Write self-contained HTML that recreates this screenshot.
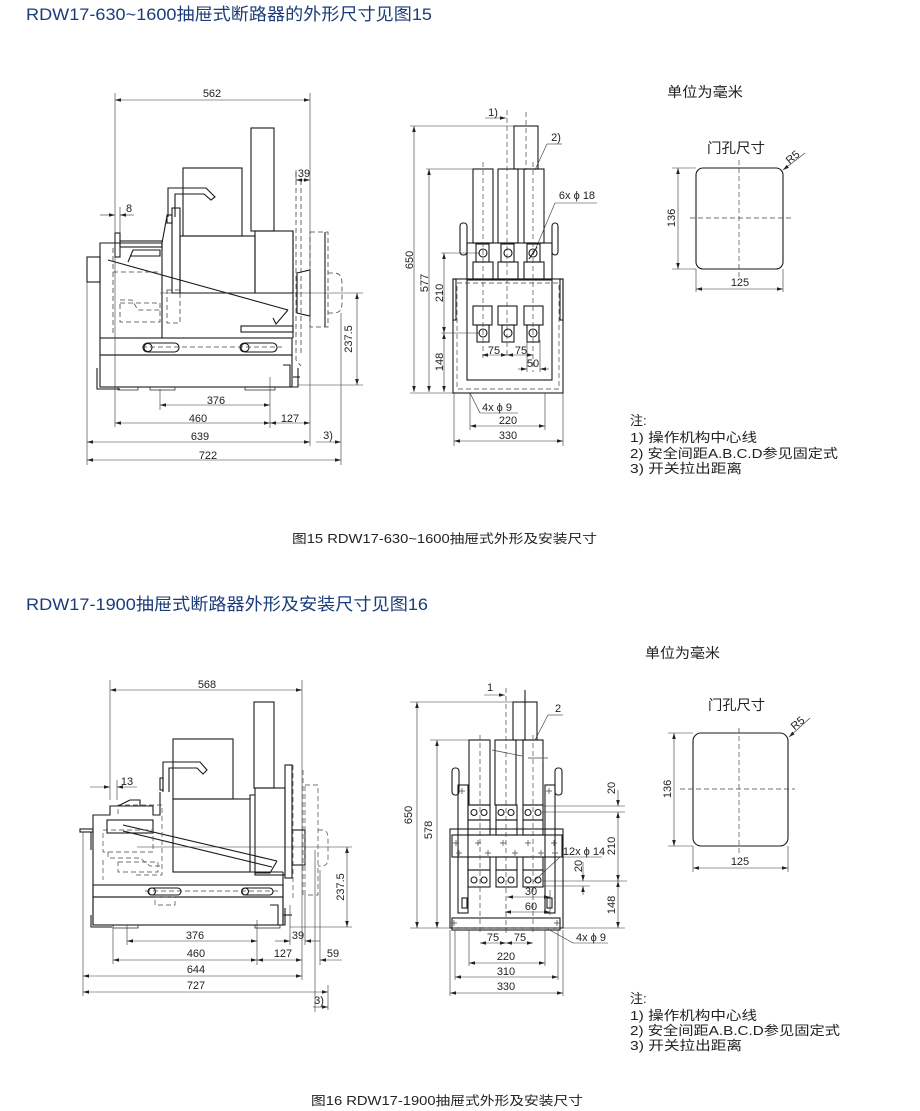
<!DOCTYPE html>
<html><head><meta charset="utf-8"><style>
html,body{margin:0;padding:0;background:#fff}
svg{display:block}
.o{fill:none;stroke:#1a1a1a;stroke-width:1.1}
.ft{fill:none;stroke:#1a1a1a;stroke-width:0.7}
.l{fill:none;stroke:#333;stroke-width:0.6}
.h{fill:none;stroke:#444;stroke-width:0.8;stroke-dasharray:5 3}
.dd{fill:none;stroke:#333;stroke-width:0.6;marker-start:url(#a);marker-end:url(#a)}
.de{fill:none;stroke:#333;stroke-width:0.6;marker-end:url(#a)}
.t{font-family:"Liberation Sans",sans-serif;font-size:11px;fill:#222;text-anchor:middle}
.c{font-family:"Liberation Sans","Noto Sans CJK SC",sans-serif;fill:#222}
.ti{font-family:"Liberation Sans","Noto Sans CJK SC",sans-serif;font-size:17px;fill:#1b3b7a}
</style></head><body>
<svg width="920" height="1111" viewBox="0 0 920 1111" xmlns="http://www.w3.org/2000/svg">
<defs>
<marker id="a" viewBox="0 0 10 6" refX="10" refY="3" markerWidth="6" markerHeight="3.6" orient="auto-start-reverse" markerUnits="userSpaceOnUse"><path d="M0,0 L10,3 L0,6z" fill="#222"/></marker>
</defs>

<!-- titles -->
<text class="ti" x="26" y="20" textLength="406" lengthAdjust="spacingAndGlyphs">RDW17-630~1600抽屉式断路器的外形尺寸见图15</text>
<text class="ti" x="26" y="610" textLength="402" lengthAdjust="spacingAndGlyphs">RDW17-1900抽屉式断路器外形及安装尺寸见图16</text>
<text class="c" x="292" y="543" font-size="12.5" textLength="305" lengthAdjust="spacingAndGlyphs">图15  RDW17-630~1600抽屉式外形及安装尺寸</text>
<text class="c" x="311" y="1105" font-size="12.5" textLength="272" lengthAdjust="spacingAndGlyphs">图16  RDW17-1900抽屉式外形及安装尺寸</text>

<!-- ================= FIG 1 SIDE ================= -->
<g class="o">
<rect x="251" y="128" width="23" height="103"/>
<rect x="183" y="168" width="59" height="68"/>
<rect x="180" y="236" width="75" height="57"/>
<rect x="255" y="231" width="38" height="62"/>
<polyline points="168,217 168,188 206,188 215,197 211,200 204,194 175,194 175,217"/>
<rect x="172" y="208" width="8" height="85"/>
<rect x="167" y="215" width="5" height="8"/>
<polyline points="162,338 162,243 167,216"/>
<polyline points="100,338 100,243 162,243"/>
<rect x="115" y="233" width="5" height="24"/>
<rect x="120" y="241" width="42" height="6"/>
<polyline points="128,262 133,250 160,250 160,256 130,256"/>
<rect x="100" y="338" width="192" height="17"/>
<rect x="100" y="355" width="192" height="32"/>
<polyline points="97,368 97,389 120,389"/>
<rect x="143" y="343" width="36" height="9" rx="4.5"/>
<circle cx="148" cy="347.5" r="4"/>
<rect x="240" y="343" width="37" height="9" rx="4.5"/>
<circle cx="245" cy="347.5" r="4"/>
<line x1="108" y1="260" x2="288" y2="310"/>
<polyline points="288,310 276,324 273,318"/>
<rect x="241" y="326" width="52" height="6"/>
<rect x="87" y="257" width="13" height="25"/>
<polygon points="297,273 310,270 310,316 297,313"/>
<line x1="325" y1="232" x2="325" y2="327"/>
<polyline points="283,365 290,365 290,387 298,387 298,368"/>
<line x1="293" y1="377" x2="300" y2="377"/>
<line x1="293" y1="231" x2="293" y2="338"/>
</g>
<g class="ft">
<rect x="118" y="387" width="20" height="3"/>
<rect x="150" y="387" width="25" height="3"/>
<rect x="245" y="387" width="30" height="3"/>
</g>
<g class="h">
<line x1="113" y1="248" x2="113" y2="335"/>
<line x1="113" y1="272" x2="162" y2="272"/>
<polyline points="120,300 132,300 138,310 160,310"/>
<rect x="120" y="303" width="40" height="19"/>
<rect x="167" y="290" width="13" height="33"/>
<polyline points="296,172 296,360 301,366"/>
<line x1="301" y1="180" x2="301" y2="356"/>
<rect x="310" y="232" width="18" height="95"/>
<path d="M328,273 h6 q8,0 8,10 v20 q0,10 -8,10 h-6"/>
<line x1="142" y1="347" x2="282" y2="347"/>
</g>
<!-- dims fig1 side -->
<g class="l">
<line x1="115" y1="93" x2="115" y2="427"/>
<line x1="310" y1="93" x2="310" y2="446"/>
<line x1="120" y1="207" x2="120" y2="233"/>
<line x1="296" y1="170" x2="296" y2="180"/>
<line x1="160" y1="293" x2="363" y2="293"/>
<line x1="298" y1="385" x2="363" y2="385"/>
<line x1="160" y1="389" x2="160" y2="410"/>
<line x1="270" y1="377" x2="270" y2="428"/>
<line x1="87" y1="282" x2="87" y2="465"/>
<line x1="341" y1="313" x2="341" y2="465"/>
</g>
<line class="dd" x1="115" y1="100" x2="310" y2="100"/>
<line class="de" x1="100" y1="215" x2="115" y2="215"/>
<line class="de" x1="134" y1="215" x2="120" y2="215"/>
<line class="dd" x1="296" y1="180" x2="310" y2="180"/>
<line class="dd" x1="357" y1="293" x2="357" y2="385"/>
<line class="dd" x1="160" y1="405" x2="270" y2="405"/>
<line class="dd" x1="115" y1="423" x2="270" y2="423"/>
<line class="dd" x1="270" y1="423" x2="310" y2="423"/>
<line class="dd" x1="87" y1="442" x2="310" y2="442"/>
<line class="de" x1="316" y1="442" x2="341" y2="442"/>
<line class="dd" x1="87" y1="460" x2="341" y2="460"/>
<text class="t" x="212" y="97">562</text>
<text class="t" x="129" y="212">8</text>
<text class="t" x="304" y="177">39</text>
<text class="t" transform="translate(352,339) rotate(-90)">237.5</text>
<text class="t" x="216" y="404">376</text>
<text class="t" x="198" y="422">460</text>
<text class="t" x="290" y="422">127</text>
<text class="t" x="200" y="440">639</text>
<text class="t" x="328" y="439">3)</text>
<text class="t" x="208" y="459">722</text>

<!-- ================= FIG 1 FRONT ================= -->
<g class="o">
<rect x="514" y="126" width="24" height="43"/>
<rect x="473" y="169" width="20" height="74"/>
<rect x="498" y="169" width="20" height="74"/>
<rect x="524" y="169" width="20" height="74"/>
<rect x="460" y="223" width="7" height="32" rx="3"/>
<rect x="552" y="223" width="6" height="32" rx="3"/>
<rect x="467" y="243" width="85" height="36"/>
<rect x="476" y="244" width="13" height="18"/><circle cx="483" cy="253" r="4"/>
<rect x="501" y="244" width="13" height="18"/><circle cx="508" cy="253" r="4"/>
<rect x="527" y="244" width="13" height="18"/><circle cx="533" cy="253" r="4"/>
<line x1="529" y1="259" x2="537" y2="247"/>
<rect x="473" y="262" width="20" height="17"/>
<rect x="498" y="262" width="20" height="17"/>
<rect x="524" y="262" width="20" height="17"/>
<rect x="453" y="279" width="110" height="114"/>
<rect x="467" y="280" width="85" height="100"/>
<rect x="453" y="279" width="3" height="41"/>
<rect x="560" y="279" width="3" height="41"/>
<rect x="473" y="306" width="19" height="19"/><rect x="477" y="325" width="12" height="17"/><circle cx="483" cy="333" r="4"/>
<rect x="498" y="306" width="19" height="19"/><rect x="502" y="325" width="12" height="17"/><circle cx="508" cy="333" r="4"/>
<rect x="524" y="306" width="19" height="19"/><rect x="527" y="325" width="12" height="17"/><circle cx="533" cy="333" r="4"/>
</g>
<g class="h" style="stroke-width:0.7">
<rect x="457" y="283" width="102" height="106"/>
<line x1="483" y1="162" x2="483" y2="358"/>
<line x1="507" y1="110" x2="507" y2="358"/>
<line x1="526" y1="112" x2="526" y2="170"/>
<line x1="533" y1="162" x2="533" y2="372"/>
</g>
<g class="l">
<line x1="410" y1="126" x2="514" y2="126"/>
<line x1="426" y1="169" x2="473" y2="169"/>
<line x1="441" y1="253" x2="480" y2="253"/>
<line x1="441" y1="333" x2="480" y2="333"/>
<line x1="410" y1="393" x2="453" y2="393"/>
<line x1="470" y1="393" x2="470" y2="430"/>
<line x1="545" y1="393" x2="545" y2="430"/>
<line x1="454" y1="393" x2="454" y2="446"/>
<line x1="563" y1="393" x2="563" y2="446"/>
<line x1="540" y1="340" x2="540" y2="372"/>
<line x1="527" y1="340" x2="527" y2="372"/>
<polyline points="555,203 597,203"/><line x1="555" y1="203" x2="533" y2="255"/>
<polyline points="547,144 562,144"/><line x1="547" y1="144" x2="535" y2="170"/>
<polyline points="480,413 518,413"/><line x1="480" y1="413" x2="470" y2="393"/>
</g>
<line class="dd" x1="414" y1="126" x2="414" y2="392"/>
<line class="dd" x1="429" y1="169" x2="429" y2="392"/>
<line class="dd" x1="444" y1="253" x2="444" y2="333"/>
<line class="dd" x1="444" y1="333" x2="444" y2="392"/>
<line class="dd" x1="482" y1="355" x2="507" y2="355"/>
<line class="dd" x1="507" y1="355" x2="533" y2="355"/>
<line class="de" x1="518" y1="369" x2="527" y2="369"/>
<line class="de" x1="549" y1="369" x2="540" y2="369"/>
<line class="de" x1="485" y1="118" x2="506" y2="118"/>
<line class="dd" x1="470" y1="426" x2="545" y2="426"/>
<line class="dd" x1="454" y1="441" x2="563" y2="441"/>
<text class="t" transform="translate(413,260) rotate(-90)">650</text>
<text class="t" transform="translate(428,283) rotate(-90)">577</text>
<text class="t" transform="translate(443,293) rotate(-90)">210</text>
<text class="t" transform="translate(443,362) rotate(-90)">148</text>
<text class="t" x="494" y="354">75</text>
<text class="t" x="521" y="354">75</text>
<text class="t" x="533" y="367">50</text>
<text class="t" x="493" y="116" font-size="10">1)</text>
<text class="t" x="556" y="141" font-size="10">2)</text>
<text class="t" x="577" y="199" font-size="10.5">6x ϕ 18</text>
<text class="t" x="497" y="411" font-size="10.5">4x ϕ 9</text>
<text class="t" x="508" y="424">220</text>
<text class="t" x="508" y="439">330</text>

<!-- ================= FIG 1 RIGHT ================= -->
<text class="c" x="667" y="97" font-size="14" textLength="76" lengthAdjust="spacingAndGlyphs">单位为毫米</text>
<text class="c" x="707" y="153" font-size="14" textLength="58" lengthAdjust="spacingAndGlyphs">门孔尺寸</text>
<rect class="o" x="696" y="168" width="87" height="101" rx="7"/>
<line class="h" x1="739" y1="160" x2="739" y2="280" style="stroke-width:0.7"/>
<line class="h" x1="690" y1="218" x2="793" y2="218" style="stroke-width:0.7"/>
<g class="l">
<line x1="672" y1="168" x2="696" y2="168"/>
<line x1="672" y1="269" x2="696" y2="269"/>
<line x1="696" y1="269" x2="696" y2="292"/>
<line x1="783" y1="269" x2="783" y2="292"/>
</g>
<line class="dd" x1="678" y1="168" x2="678" y2="269"/>
<line class="dd" x1="696" y1="289" x2="783" y2="289"/>
<line class="de" x1="805" y1="153" x2="783" y2="170"/>
<text class="t" transform="translate(675,218) rotate(-90)">136</text>
<text class="t" x="740" y="286">125</text>
<text class="t" transform="translate(795,160) rotate(-40)" font-size="9.5">R5</text>
<text class="c" x="630" y="425" font-size="13">注:</text>
<text class="c" x="630" y="442" font-size="13" textLength="127" lengthAdjust="spacingAndGlyphs">1) 操作机构中心线</text>
<text class="c" x="630" y="458" font-size="13" textLength="208" lengthAdjust="spacingAndGlyphs">2) 安全间距A.B.C.D参见固定式</text>
<text class="c" x="630" y="473" font-size="13" textLength="112" lengthAdjust="spacingAndGlyphs">3) 开关拉出距离</text>

<!-- ================= FIG 2 SIDE ================= -->
<g class="o">
<rect x="254" y="702" width="20" height="86"/>
<rect x="173" y="739" width="60" height="60"/>
<polyline points="163,792 163,762 200,762 207,770 203,774 197,768 169,768 169,792"/>
<rect x="160" y="778" width="3" height="12"/>
<rect x="173" y="799" width="77" height="73"/>
<rect x="255" y="788" width="30" height="87"/>
<polyline points="250,799 250,795 255,795"/>
<rect x="285" y="765" width="7" height="113"/>
<rect x="292" y="830" width="13" height="35"/>
<polyline points="93,925 93,815 110,815 110,806 153,806 153,815 160,815 160,792"/>
<rect x="107" y="820" width="46" height="13"/>
<polyline points="118,806 130,800 140,800 140,806"/>
<rect x="80" y="829" width="13" height="3"/>
<line x1="91" y1="832" x2="91" y2="850"/>
<line x1="123" y1="825" x2="277" y2="861"/>
<line x1="123" y1="831" x2="272" y2="867"/>
<polyline points="277,861 270,873 255,873"/>
<line x1="173" y1="872" x2="283" y2="872"/>
<line x1="283" y1="872" x2="283" y2="925"/>
<rect x="93" y="885" width="190" height="12"/>
<rect x="93" y="897" width="190" height="28"/>
<polyline points="91,915 91,927 112,927"/>
<rect x="148" y="888" width="33" height="7" rx="3.5"/>
<circle cx="152" cy="891.5" r="3.5"/>
<rect x="242" y="888" width="31" height="7" rx="3.5"/>
<circle cx="245" cy="891.5" r="3.5"/>
<polyline points="270,905 278,905 278,925 285,925 285,908"/>
<line x1="283" y1="915" x2="292" y2="915"/>
</g>
<g class="ft">
<rect x="113" y="925" width="25" height="3"/>
<rect x="255" y="925" width="25" height="3"/>
</g>
<g class="h" style="stroke-width:0.7">
<polyline points="118,814 118,805 162,805 162,875 135,875"/>
<rect x="103" y="830" width="50" height="22"/>
<polyline points="108,852 108,858 140,858 150,866 160,866"/>
<rect x="118" y="862" width="40" height="10"/>
<line x1="103" y1="860" x2="103" y2="880"/>
<rect x="155" y="897" width="20" height="8"/>
<polyline points="293,765 293,898"/>
<polyline points="303,770 303,898"/>
<rect x="305" y="785" width="13" height="110"/>
<path d="M318,830 h4 q6,0 6,8 v20 q0,8 -6,8 h-4"/>
<line x1="145" y1="891" x2="280" y2="891"/>
</g>
<g class="l">
<line x1="110" y1="680" x2="110" y2="800"/>
<line x1="302" y1="680" x2="302" y2="980"/>
<line x1="117" y1="780" x2="117" y2="800"/>
<line x1="137" y1="847" x2="352" y2="847"/>
<line x1="290" y1="927" x2="352" y2="927"/>
<line x1="127" y1="925" x2="127" y2="945"/>
<line x1="257" y1="920" x2="257" y2="965"/>
<line x1="113" y1="927" x2="113" y2="964"/>
<line x1="290" y1="905" x2="290" y2="945"/>
<line x1="305" y1="895" x2="305" y2="945"/>
<line x1="320" y1="870" x2="320" y2="965"/>
<line x1="83" y1="832" x2="83" y2="996"/>
<line x1="315" y1="850" x2="315" y2="1012"/>
<line x1="328" y1="985" x2="328" y2="1010"/>
</g>
<line class="dd" x1="110" y1="690" x2="302" y2="690"/>
<line class="de" x1="90" y1="787" x2="110" y2="787"/>
<line class="de" x1="137" y1="787" x2="117" y2="787"/>
<line class="dd" x1="347" y1="847" x2="347" y2="927"/>
<line class="dd" x1="127" y1="941" x2="257" y2="941"/>
<line class="de" x1="275" y1="941" x2="290" y2="941"/>
<line class="de" x1="320" y1="941" x2="305" y2="941"/>
<line class="dd" x1="113" y1="960" x2="257" y2="960"/>
<line class="dd" x1="257" y1="960" x2="302" y2="960"/>
<line class="de" x1="342" y1="960" x2="320" y2="960"/>
<line class="dd" x1="83" y1="976" x2="302" y2="976"/>
<line class="dd" x1="83" y1="992" x2="328" y2="992"/>
<line class="de" x1="313" y1="1007" x2="328" y2="1007"/>
<text class="t" x="207" y="688">568</text>
<text class="t" x="127" y="785">13</text>
<text class="t" transform="translate(344,887) rotate(-90)">237.5</text>
<text class="t" x="195" y="939">376</text>
<text class="t" x="298" y="939">39</text>
<text class="t" x="196" y="957">460</text>
<text class="t" x="283" y="957">127</text>
<text class="t" x="333" y="957">59</text>
<text class="t" x="196" y="973">644</text>
<text class="t" x="196" y="989">727</text>
<text class="t" x="319" y="1004">3)</text>

<!-- ================= FIG 2 FRONT ================= -->
<g class="o">
<rect x="513" y="702" width="24" height="38"/>
<rect x="469" y="740" width="21" height="65"/>
<rect x="495" y="740" width="21" height="65"/>
<rect x="523" y="740" width="20" height="65"/>
<rect x="452" y="768" width="7" height="27" rx="3"/>
<rect x="555" y="768" width="7" height="27" rx="3"/>
<rect x="458" y="785" width="10" height="128"/>
<rect x="545" y="785" width="10" height="128"/>
<rect x="468" y="805" width="22" height="15"/><circle cx="474" cy="812.5" r="3"/><circle cx="484" cy="812.5" r="3"/>
<rect x="496" y="805" width="21" height="15"/><circle cx="501" cy="812.5" r="3"/><circle cx="511" cy="812.5" r="3"/>
<rect x="523" y="805" width="20" height="15"/><circle cx="528" cy="812.5" r="3"/><circle cx="538" cy="812.5" r="3"/>
<rect x="468" y="820" width="22" height="15"/>
<rect x="496" y="820" width="21" height="15"/>
<rect x="523" y="820" width="20" height="15"/>
<rect x="450" y="829" width="113" height="99"/>
<rect x="452" y="835" width="110" height="22"/>
<rect x="468" y="857" width="22" height="13"/><rect x="468" y="870" width="22" height="17"/><circle cx="474" cy="880" r="3"/><circle cx="484" cy="880" r="3"/>
<rect x="496" y="857" width="21" height="13"/><rect x="496" y="870" width="21" height="17"/><circle cx="501" cy="880" r="3"/><circle cx="511" cy="880" r="3"/>
<rect x="523" y="857" width="20" height="13"/><rect x="523" y="870" width="20" height="17"/><circle cx="528" cy="880" r="3"/><circle cx="538" cy="880" r="3"/>
<rect x="452" y="918" width="108" height="12"/>
<rect x="462" y="898" width="5" height="10"/>
<rect x="547" y="898" width="5" height="10"/>
<line x1="525" y1="690" x2="525" y2="740"/>
</g>
<g class="l" style="stroke:#444;stroke-width:0.7">
<path d="M456,840v6M453,843h6 M478,840v6M475,843h6 M503,840v6M500,843h6 M528,840v6M525,843h6 M554,840v6M551,843h6 M459,850v6M456,853h6 M488,850v6M485,853h6 M515,850v6M512,853h6 M541,850v6M538,853h6 M555,850v6M552,853h6"/>
<path d="M462,788v6M459,791h6 M549,788v6M546,791h6 M454,920v6M451,923h6 M557,920v6M554,923h6"/>
<line x1="492" y1="750" x2="522" y2="756"/>
<line x1="528" y1="758" x2="548" y2="758"/>
<line x1="543" y1="755" x2="543" y2="761"/>
</g>
<g class="h" style="stroke-width:0.7">
<line x1="506" y1="688" x2="506" y2="935"/>
<line x1="480" y1="735" x2="480" y2="935"/>
<line x1="533" y1="735" x2="533" y2="935"/>
<line x1="452" y1="928" x2="560" y2="928"/>
</g>
<g class="l">
<line x1="410" y1="702" x2="513" y2="702"/>
<line x1="430" y1="740" x2="469" y2="740"/>
<line x1="410" y1="928" x2="450" y2="928"/>
<line x1="563" y1="928" x2="625" y2="928"/>
<line x1="543" y1="806" x2="625" y2="806"/>
<line x1="543" y1="812" x2="625" y2="812"/>
<line x1="543" y1="881" x2="627" y2="881"/>
<line x1="543" y1="886" x2="590" y2="886"/>
<line x1="469" y1="930" x2="469" y2="966"/>
<line x1="545" y1="930" x2="545" y2="966"/>
<line x1="455" y1="930" x2="455" y2="980"/>
<line x1="558" y1="930" x2="558" y2="980"/>
<line x1="450" y1="930" x2="450" y2="996"/>
<line x1="563" y1="930" x2="563" y2="996"/>
<line x1="550" y1="890" x2="550" y2="915"/>
<polyline points="560,857 602,857"/><line x1="560" y1="857" x2="533" y2="882"/>
<polyline points="548,715 563,715"/><line x1="548" y1="715" x2="535" y2="740"/>
<polyline points="573,943 608,943"/><line x1="573" y1="943" x2="548" y2="929"/>
</g>
<line class="dd" x1="417" y1="702" x2="417" y2="928"/>
<line class="dd" x1="437" y1="740" x2="437" y2="928"/>
<line class="de" x1="618" y1="790" x2="618" y2="806"/>
<line class="dd" x1="618" y1="812" x2="618" y2="881"/>
<line class="dd" x1="618" y1="881" x2="618" y2="928"/>
<line class="de" x1="583" y1="862" x2="583" y2="881"/>
<line class="de" x1="583" y1="895" x2="583" y2="886"/>
<line class="de" x1="484" y1="695" x2="505" y2="695"/>
<line class="dd" x1="507" y1="897" x2="550" y2="897"/>
<line class="dd" x1="505" y1="912" x2="550" y2="912"/>
<line class="dd" x1="480" y1="943" x2="506" y2="943"/>
<line class="dd" x1="506" y1="943" x2="533" y2="943"/>
<line class="dd" x1="469" y1="963" x2="545" y2="963"/>
<line class="dd" x1="455" y1="977" x2="558" y2="977"/>
<line class="dd" x1="450" y1="993" x2="563" y2="993"/>
<text class="t" transform="translate(412,815) rotate(-90)">650</text>
<text class="t" transform="translate(432,830) rotate(-90)">578</text>
<text class="t" transform="translate(615,788) rotate(-90)">20</text>
<text class="t" transform="translate(615,846) rotate(-90)">210</text>
<text class="t" transform="translate(615,905) rotate(-90)">148</text>
<text class="t" transform="translate(582,866) rotate(-90)">20</text>
<text class="t" x="490" y="691" font-size="10">1</text>
<text class="t" x="558" y="712" font-size="10">2</text>
<text class="t" x="584" y="855" font-size="10.5">12x ϕ 14</text>
<text class="t" x="531" y="895">30</text>
<text class="t" x="531" y="910">60</text>
<text class="t" x="493" y="941">75</text>
<text class="t" x="520" y="941">75</text>
<text class="t" x="591" y="941" font-size="10.5">4x ϕ 9</text>
<text class="t" x="506" y="960">220</text>
<text class="t" x="506" y="975">310</text>
<text class="t" x="506" y="990">330</text>

<!-- ================= FIG 2 RIGHT ================= -->
<text class="c" x="645" y="658" font-size="14" textLength="75" lengthAdjust="spacingAndGlyphs">单位为毫米</text>
<text class="c" x="708" y="710" font-size="14" textLength="57" lengthAdjust="spacingAndGlyphs">门孔尺寸</text>
<rect class="o" x="693" y="733" width="95" height="113" rx="8"/>
<line class="h" x1="739" y1="728" x2="739" y2="855" style="stroke-width:0.7"/>
<line class="h" x1="680" y1="789" x2="795" y2="789" style="stroke-width:0.7"/>
<g class="l">
<line x1="668" y1="733" x2="693" y2="733"/>
<line x1="668" y1="846" x2="693" y2="846"/>
<line x1="693" y1="846" x2="693" y2="872"/>
<line x1="788" y1="846" x2="788" y2="872"/>
</g>
<line class="dd" x1="674" y1="733" x2="674" y2="846"/>
<line class="dd" x1="693" y1="868" x2="788" y2="868"/>
<line class="de" x1="810" y1="718" x2="789" y2="737"/>
<text class="t" transform="translate(671,789) rotate(-90)">136</text>
<text class="t" x="740" y="865">125</text>
<text class="t" transform="translate(800,726) rotate(-40)" font-size="9.5">R5</text>
<text class="c" x="630" y="1003" font-size="13">注:</text>
<text class="c" x="630" y="1020" font-size="13" textLength="127" lengthAdjust="spacingAndGlyphs">1) 操作机构中心线</text>
<text class="c" x="630" y="1035" font-size="13" textLength="210" lengthAdjust="spacingAndGlyphs">2) 安全间距A.B.C.D参见固定式</text>
<text class="c" x="630" y="1050" font-size="13" textLength="112" lengthAdjust="spacingAndGlyphs">3) 开关拉出距离</text>
</svg>
</body></html>
